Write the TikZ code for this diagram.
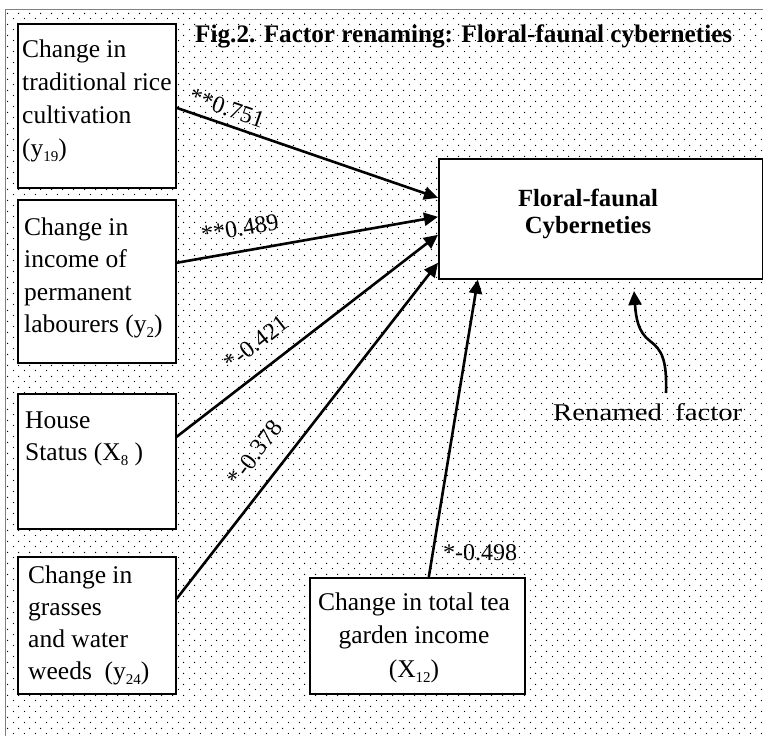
\documentclass[tikz,border=0pt]{standalone}
\usepackage{fontspec}
\setmainfont{Liberation Serif}
\usepackage{graphicx}
\usetikzlibrary{arrows.meta,calc,patterns}

% staggered dot screen for the background
\pgfdeclarepatternformonly{sparse dots}{\pgfqpoint{0pt}{0pt}}{\pgfqpoint{11pt}{11pt}}{\pgfqpoint{11pt}{11pt}}{%
  \pgfpathcircle{\pgfqpoint{2.75pt}{2.75pt}}{0.75pt}%
  \pgfpathcircle{\pgfqpoint{8.25pt}{8.25pt}}{0.75pt}%
  \pgfusepath{fill}}

% multi-line text whose baseline is the first line
\newcommand\boxlines[3][l]{\fontsize{25.5}{#2}\selectfont\renewcommand\arraystretch{1}%
  \begin{tabular}[t]{@{}#1@{}}#3\end{tabular}}
% lowered small index
\newcommand\idx[1]{\raisebox{-5pt}{\fontsize{15}{15}\selectfont #1}}

\tikzset{
  factorbox/.style={draw, line width=1.6pt, fill=white, inner sep=0pt, anchor=north west},
  boxtext/.style={inner sep=0pt, anchor=base west},
  loading/.style={inner sep=0pt, font=\fontsize{24}{28}\selectfont},
  arr/.style={line width=2.6pt, -{Triangle[length=14pt,width=13pt]}},
}

\begin{document}
\begin{tikzpicture}[x=1pt,y=-1pt]
\useasboundingbox (0,0) rectangle (763,736);
\fill[white] (0,0) rectangle (763,736);
\fill[pattern=sparse dots, pattern color=black] (5,9) rectangle (763,736);
\draw[black!50, line width=1pt] (5,736) -- (5,9) -- (763,9);

% title
\node[inner sep=0pt, anchor=base west, font=\fontsize{25.2}{28}\selectfont\bfseries] (title) at (195,42)
  {Fig.2. Factor renaming: Floral-faunal cyberneties};

% variable boxes
\node[factorbox, minimum width=158pt, minimum height=164pt] (b1) at (17,23) {};
\node[factorbox, minimum width=158pt, minimum height=163pt] (b2) at (17,199) {};
\node[factorbox, minimum width=158pt, minimum height=135pt] (b3) at (17,393) {};
\node[factorbox, minimum width=158pt, minimum height=137pt] (b4) at (17,556) {};
\node[factorbox, minimum width=215pt, minimum height=116pt] (b5) at (309,577) {};
\node[factorbox, minimum width=324pt, minimum height=120pt] (fc) at (438,158) {};

% box texts
\node[boxtext] (t1) at ($(b1.north west)+(5,34)$)
  {\boxlines{33}{Change in\\traditional rice\\cultivation\\(y\idx{19})}};
\node[boxtext] (t2) at ($(b2.north west)+(7,36)$)
  {\boxlines{32.5}{Change in\\income of\\permanent\\labourers (y\idx{2})}};
\node[boxtext] (t3) at ($(b3.north west)+(8,35)$)
  {\boxlines{32}{House\\Status (X\idx{8} )}};
\node[boxtext] (t4) at ($(b4.north west)+(11,27)$)
  {\boxlines{32}{Change in\\grasses\\and water\\weeds\ \ (y\idx{24})}};
\node[inner sep=0pt, anchor=base] (t5) at (414,610)
  {\boxlines[c]{33.5}{Change in total tea\\garden income\\(X\idx{12})}};
\node[inner sep=0pt, anchor=base] (tfc) at (588,206)
  {\fontsize{24.7}{27}\selectfont\bfseries\renewcommand\arraystretch{1}%
   \begin{tabular}[t]{@{}c@{}}Floral-faunal\\Cyberneties\end{tabular}};

% loadings
\draw[arr] ($(b1.east)+(0,2)$) -- ($(fc.west)+(0,-21)$);
\draw[arr] ($(b2.east)+(0,-18.5)$) -- ($(fc.west)+(0,-2)$);
\draw[arr] ($(b3.east)+(0,-24.5)$) -- ($(fc.west)+(0,16)$);
\draw[arr] ($(b4.east)+(0,-26.5)$) -- ($(fc.west)+(0,44)$);
\draw[arr] ($(b5.north)+(11.5,0)$) -- ($(fc.south)+(-123,0)$);

\node[loading, rotate=-19] (l1) at (227,108) {**0.751};
\node[loading, rotate=10] (l2) at (240,228) {**0.489};
\node[loading, rotate=38] (l3) at (256,343) {*-0.421};
\node[loading, rotate=53] (l4) at (255,453) {*-0.378};
\node[loading, anchor=base] (l5) at (480,560) {*-0.498};

% renamed factor note
\node[inner sep=0pt, anchor=base west, font=\fontsize{24}{28}\selectfont] (rn) at (553,420)
  {\scalebox{1.2}[1]{Renamed\hspace{5pt} factor}};
\coordinate (rs) at (666,393);
\coordinate (rt) at (634,291);
\draw[arr] (rs) .. controls (667,360) and (662,350) .. (650,341)
              .. controls (638,332) and (636,318) .. (rt);
\end{tikzpicture}
\end{document}
